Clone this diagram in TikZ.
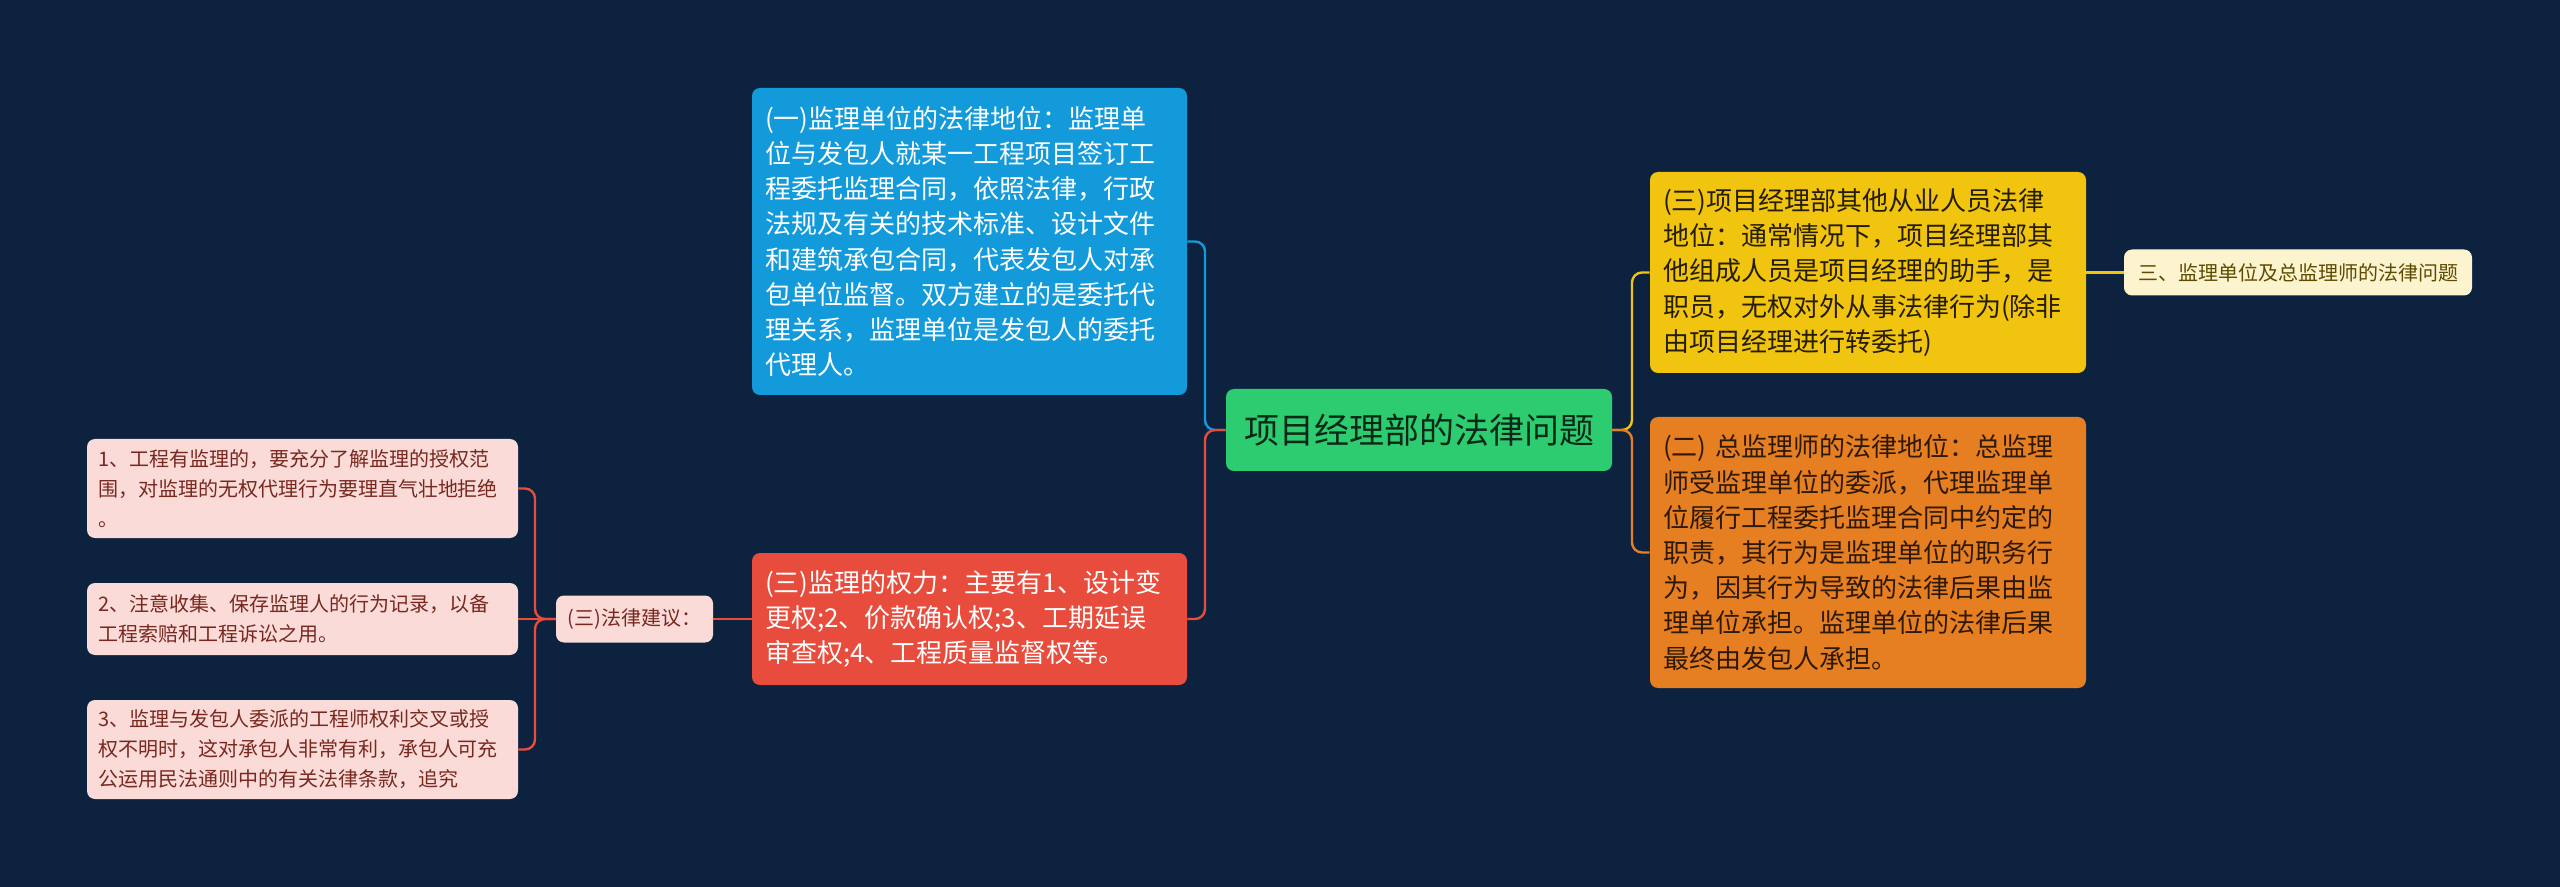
\documentclass[tikz,border=0pt]{standalone}
\usepackage{fontspec}
\setmainfont{Noto Sans CJK SC}
\definecolor{bgnavy}{HTML}{0C223F}
\definecolor{topicblue}{HTML}{129ADA}
\definecolor{topicred}{HTML}{E74C3C}
\definecolor{topicgreen}{HTML}{2ECC71}
\definecolor{topicyellow}{HTML}{F1C40F}
\definecolor{topicorange}{HTML}{E67E22}
\definecolor{pinkfill}{HTML}{FADBD8}
\definecolor{pinktext}{HTML}{78281F}
\definecolor{creamfill}{HTML}{FCF3CF}
\definecolor{creamtext}{HTML}{5E4B00}
\begin{document}
\begin{tikzpicture}[x=0.5pt,y=-0.5pt,
  box/.style={rounded corners=4pt,align=left,inner xsep=6.5pt,inner ysep=0pt,font=\fontsize{13}{17.6}\selectfont},
  tip/.style={rounded corners=4pt,align=left,inner xsep=5.5pt,inner ysep=0pt,fill=pinkfill,text=pinktext,font=\fontsize{10}{15}\selectfont},
  link/.style={line width=1.2pt,rounded corners=5pt}]
  \fill[bgnavy] (0,0) rectangle (2560,887);
  \useasboundingbox (0,0) rectangle (2560,887);
  % centre topic
  \node[box,align=center,fill=topicgreen,text=black!80!topicgreen,minimum width=193pt,minimum height=41pt,font=\fontsize{17.5}{21}\selectfont] (root) at (1419,430) {项目经理部的法律问题};
  % left branch
  \node[box,fill=topicblue,text=white,text width=204.5pt,minimum height=153.5pt] (diwei) at (969.5,241.5) {(一)监理单位的法律地位：监理单\\位与发包人就某一工程项目签订工\\程委托监理合同，依照法律，行政\\法规及有关的技术标准、设计文件\\和建筑承包合同，代表发包人对承\\包单位监督。双方建立的是委托代\\理关系，监理单位是发包人的委托\\代理人。};
  \node[box,fill=topicred,text=white,text width=204.5pt,minimum height=66pt] (quanli) at (969.5,619) {(三)监理的权力：主要有1、设计变\\更权;2、价款确认权;3、工期延误\\审查权;4、工程质量监督权等。};
  \node[tip,align=center,minimum width=78.5pt,minimum height=23.5pt] (jianyi) at (634.5,619) {(三)法律建议：};
  \node[tip,text width=204.5pt,minimum height=49.5pt] (jy1) at (302.5,488.5) {1、工程有监理的，要充分了解监理的授权范\\围，对监理的无权代理行为要理直气壮地拒绝\\。};
  \node[tip,text width=204.5pt,minimum height=36pt] (jy2) at (302.5,619) {2、注意收集、保存监理人的行为记录，以备\\工程索赔和工程诉讼之用。};
  \node[tip,text width=204.5pt,minimum height=49.5pt] (jy3) at (302.5,749.5) {3、监理与发包人委派的工程师权利交叉或授\\权不明时，这对承包人非常有利，承包人可充\\公运用民法通则中的有关法律条款，追究};
  % right branch
  \node[box,fill=topicyellow,text=black!85!topicyellow,text width=205pt,minimum height=100.5pt] (renyuan) at (1868,272.5) {(三)项目经理部其他从业人员法律\\地位：通常情况下，项目经理部其\\他组成人员是项目经理的助手，是\\职员，无权对外从事法律行为(除非\\由项目经理进行转委托)};
  \node[box,fill=topicorange,text=black!80!topicorange,text width=205pt,minimum height=135.5pt] (zongjian) at (1868,552.5) {(二) 总监理师的法律地位：总监理\\师受监理单位的委派，代理监理单\\位履行工程委托监理合同中约定的\\职责，其行为是监理单位的职务行\\为，因其行为导致的法律后果由监\\理单位承担。监理单位的法律后果\\最终由发包人承担。};
  \node[tip,align=center,fill=creamfill,text=creamtext,minimum width=174pt,minimum height=23pt] (wenti) at (2298,272.5) {三、监理单位及总监理师的法律问题};
  \coordinate (lbus) at (1205,430);
  \coordinate (rbus) at (1632,430);
  \coordinate (pbus) at (535,619);
  \draw[link,topicblue] (root.west) -- (lbus) |- (diwei.east);
  \draw[link,topicred] (root.west) -- (lbus) |- (quanli.east);
  \draw[link,topicyellow] (root.east) -- (rbus) |- (renyuan.west);
  \draw[link,topicorange] (root.east) -- (rbus) |- (zongjian.west);
  \draw[link,topicyellow] (renyuan.east) -- (wenti.west);
  \draw[link,topicred] (quanli.west) -- (jianyi.east);
  \draw[link,topicred] (jianyi.west) -- (pbus) |- (jy1.east);
  \draw[link,topicred] (jianyi.west) -- (jy2.east);
  \draw[link,topicred] (jianyi.west) -- (pbus) |- (jy3.east);
\end{tikzpicture}
\end{document}
